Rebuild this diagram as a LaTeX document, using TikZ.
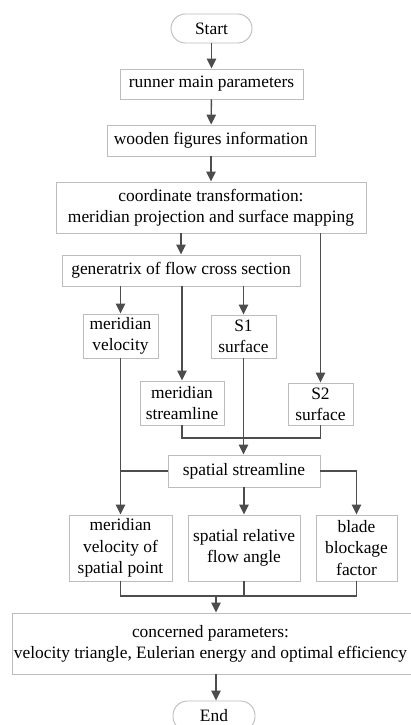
\documentclass[tikz,border=0pt]{standalone}
\usepackage{fontspec}
\setmainfont{Liberation Serif}
\usetikzlibrary{arrows.meta,calc}
\definecolor{boxline}{HTML}{BDBDBD}
\definecolor{conn}{HTML}{4D4D4D}
\tikzset{
  box/.style={draw=boxline,line width=0.9pt,fill=white,inner sep=0pt,align=center,font=\fontsize{17.4}{21.3}\selectfont},
  term/.style={box,rounded corners=14.5pt},
  conn/.style={draw=conn,line width=1.4pt},
  arr/.style={conn,-{Triangle[length=10pt,width=9.5pt]}}
}
\begin{document}
\begin{tikzpicture}[x=1pt,y=-1pt]
\clip (0,0) rectangle (411,725);
\fill[white] (0,0) rectangle (411,725);
\node[term,minimum width=81pt,minimum height=29pt] (start) at (211.5,28.5) {Start};
\node[box,minimum width=183pt,minimum height=30pt] (runner) at (211.5,84) {runner main parameters};
\node[box,minimum width=208pt,minimum height=31pt] (wooden) at (211,140.5) {wooden figures information};
\node[box,minimum width=310pt,minimum height=51pt] (coord) at (211,207.5) {coordinate transformation:\\meridian projection and surface mapping};
\node[box,minimum width=238pt,minimum height=31pt] (gen) at (181,270.5) {generatrix of flow cross section};
\node[box,minimum width=75pt,minimum height=44pt] (mv) at (120.5,336) {meridian\\velocity};
\node[box,minimum width=84pt,minimum height=44pt] (ms) at (182,403) {meridian\\streamline};
\node[box,minimum width=65pt,minimum height=43pt] (s1) at (243.5,336.5) {S1\\surface};
\node[box,minimum width=65pt,minimum height=42pt] (s2) at (320.5,404) {S2\\surface};
\node[box,minimum width=152pt,minimum height=32pt] (ss) at (244,471) {spatial streamline};
\node[box,minimum width=103pt,minimum height=66pt] (mvp) at (120.5,548) {meridian\\velocity of\\spatial point};
\node[box,minimum width=112pt,minimum height=66pt] (sra) at (244,548) {spatial relative\\flow angle};
\node[box,minimum width=81pt,minimum height=66pt] (bbf) at (356.5,548) {blade\\blockage\\factor};
\node[box,minimum width=400pt,minimum height=61pt] (conc) at (212.5,643.5) {\hspace*{-4pt}concerned parameters:\\velocity triangle, Eulerian energy and optimal efficiency\hspace*{4pt}};
\node[term,minimum width=82pt,minimum height=30pt] (end) at (214,716) {End};
\coordinate (j1) at (182,438);
\coordinate (j2) at (216,596);
\draw[arr] (start) -- (runner);
\draw[arr] (runner) -- (wooden);
\draw[arr] (wooden) -- (coord);
\draw[arr] (coord.south -| gen) -- (gen);
\draw[arr] (coord.south -| s2) -- (s2);
\draw[arr] (gen.south -| mv) -- (mv);
\draw[arr] (gen.south -| ms) -- (ms);
\draw[arr] (gen.south -| s1) -- (s1);
\draw[conn] (ms.south) |- (j1) -| (s2.south);
\draw[arr] (s1.south) -- (ss.north -| s1);
\draw[arr] (mv.south) -- (mvp.north);
\draw[conn] (ss.west) -- (ss.west -| mv);
\draw[arr] (ss.east) -| (bbf.north);
\draw[arr] (ss.south -| sra) -- (sra.north);
\draw[conn] (mvp.south) |- (j2);
\draw[conn] (bbf.south) |- (j2);
\draw[conn] (sra.south) -- (sra.south |- j2);
\draw[arr] (j2) -- (conc.north -| j2);
\draw[arr] (conc.south -| j2) -- (end.north -| j2);
\end{tikzpicture}
\end{document}
